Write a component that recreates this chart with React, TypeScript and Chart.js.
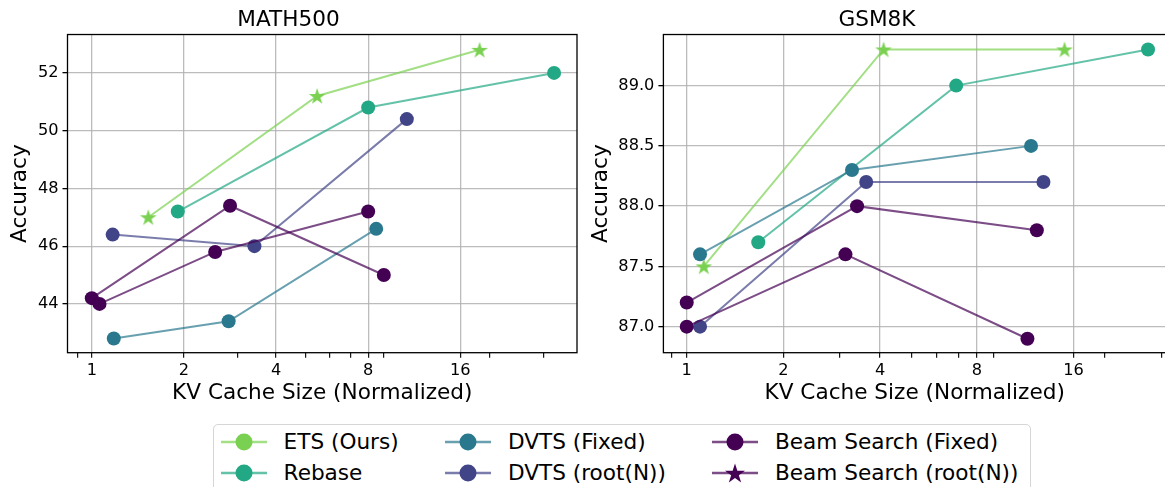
import { useEffect, useRef } from "react";
import { Chart, registerables, type ChartConfiguration, type Plugin } from "chart.js";

Chart.register(...registerables);

// series names + viridis colours
const seriesNames = [
    "ETS (Ours)",
    "Rebase",
    "DVTS (Fixed)",
    "DVTS (root(N))",
    "Beam Search (Fixed)",
    "Beam Search (root(N))",
];
const seriesColors = ["#7ad151", "#22a884", "#2a788e", "#414487", "#440154", "#440154"];
const lineColors = [
    "rgba(122,209,81,0.7)",
    "rgba(34,168,132,0.7)",
    "rgba(42,120,142,0.7)",
    "rgba(65,68,135,0.7)",
    "rgba(68,1,84,0.7)",
    "rgba(68,1,84,0.7)",
];

// MATH500 (KV cache size, accuracy)
const mathEtsKv = [1.53, 5.45, 18.5];
const mathEtsAcc = [47.0, 51.2, 52.8];
const mathRebaseKv = [1.91, 8.0, 32.4];
const mathRebaseAcc = [47.2, 50.8, 52.0];
const mathDvtsFixedKv = [1.18, 2.8, 8.5];
const mathDvtsFixedAcc = [42.8, 43.4, 46.6];
const mathDvtsRootKv = [1.17, 3.4, 10.7];
const mathDvtsRootAcc = [46.4, 46.0, 50.4];
const mathBeamFixedKv = [1.0, 2.83, 9.0];
const mathBeamFixedAcc = [44.2, 47.4, 45.0];
const mathBeamRootKv = [1.06, 2.53, 8.0];
const mathBeamRootAcc = [44.0, 45.8, 47.2];

// GSM8K
const gsmEtsKv = [1.13, 4.1, 15.0];
const gsmEtsAcc = [87.5, 89.3, 89.3];
const gsmRebaseKv = [1.67, 6.9, 27.3];
const gsmRebaseAcc = [87.7, 89.0, 89.3];
const gsmDvtsFixedKv = [1.1, 3.27, 11.8];
const gsmDvtsFixedAcc = [87.6, 88.3, 88.5];
const gsmDvtsRootKv = [1.1, 3.62, 12.9];
const gsmDvtsRootAcc = [87.0, 88.2, 88.2];
const gsmBeamFixedKv = [1.0, 3.12, 11.5];
const gsmBeamFixedAcc = [87.0, 87.6, 86.9];
const gsmBeamRootKv = [1.0, 3.39, 12.3];
const gsmBeamRootAcc = [87.2, 88.0, 87.8];

// ticks
const xMajorTicks = [1, 2, 4, 8, 16];
const xMinorTicks = [0.9, 3, 5, 6, 7, 9, 20, 30];
const mathYTicks = [44, 46, 48, 50, 52];
const gsmYTicks = [87.0, 87.5, 88.0, 88.5, 89.0];

const FONT = "DejaVu Sans";
const HEIGHT = 420;
const PLOT_BOTTOM = 352.7;

const starPoints = (cx: number, cy: number, R: number) => {
    const pts: [number, number][] = [];
    for (let k = 0; k < 10; k++) {
        const r = k % 2 === 0 ? R : R * 0.382;
        const a = -Math.PI / 2 + (k * Math.PI) / 5;
        pts.push([cx + r * Math.cos(a), cy + r * Math.sin(a)]);
    }
    return pts;
};

// filled star marker as a canvas (chart.js "star" is only an outline)
const makeStar = (color: string, R: number) => {
    const size = Math.ceil(R * 2 + 4);
    const c = document.createElement("canvas");
    c.width = size;
    c.height = size;
    const ctx = c.getContext("2d")!;
    ctx.beginPath();
    starPoints(size / 2, size / 2 + R * 0.08, R).forEach(([x, y], i) =>
        i === 0 ? ctx.moveTo(x, y) : ctx.lineTo(x, y),
    );
    ctx.closePath();
    ctx.fillStyle = color;
    ctx.fill();
    return c;
};

interface PanelProps {
    title: string;
    xs: number[][];
    ys: number[][];
    xMin: number;
    xMax: number;
    yMin: number;
    yMax: number;
    yTicks: number[];
    yDigits: number;
    left: number;
    width: number;
    padRight: number;
    yAxisWidth: number;
    yTitlePad: number;
}

const Panel = (p: PanelProps) => {
    const canvasRef = useRef<HTMLCanvasElement>(null);

    useEffect(() => {
        if (!canvasRef.current) return;
        const star = makeStar(seriesColors[0], 8.8);

        // matplotlib style box around the axes
        const framePlugin: Plugin<"line"> = {
            id: "frame",
            afterDatasetsDraw: (chart) => {
                const { ctx, chartArea: a } = chart;
                ctx.save();
                ctx.strokeStyle = "#000";
                ctx.lineWidth = 1.3;
                ctx.strokeRect(a.left, a.top, a.right - a.left, a.bottom - a.top);
                ctx.restore();
            },
        };

        const config: ChartConfiguration<"line"> = {
            type: "line",
            data: {
                datasets: seriesNames.map((name, i) => ({
                    label: name,
                    data: p.xs[i].map((x, j) => ({ x, y: p.ys[i][j] })),
                    borderColor: lineColors[i],
                    borderWidth: 2,
                    backgroundColor: seriesColors[i],
                    pointBackgroundColor: seriesColors[i],
                    pointBorderColor: seriesColors[i],
                    pointBorderWidth: 0,
                    pointRadius: 7,
                    pointStyle: i === 0 ? star : "circle",
                    tension: 0,
                    fill: false,
                    order: seriesNames.length - i,
                })),
            },
            options: {
                responsive: false,
                animation: false,
                layout: { padding: { left: 0, right: p.padRight, top: 0, bottom: 0 } },
                plugins: {
                    legend: { display: false },
                    tooltip: { enabled: false },
                    title: {
                        display: true,
                        text: p.title,
                        color: "#000",
                        font: { family: FONT, size: 21.6, weight: "normal", lineHeight: 1.2 },
                        padding: { top: 7, bottom: 1.6 },
                    },
                },
                scales: {
                    x: {
                        type: "logarithmic",
                        min: p.xMin,
                        max: p.xMax,
                        afterBuildTicks: (scale) => {
                            scale.ticks = [...xMajorTicks, ...xMinorTicks]
                                .sort((a, b) => a - b)
                                .map((v) => ({ value: v }));
                        },
                        afterFit: (scale) => {
                            scale.height = HEIGHT - PLOT_BOTTOM;
                            scale.paddingLeft = 0;
                            scale.paddingRight = 0;
                        },
                        ticks: {
                            autoSkip: false,
                            maxRotation: 0,
                            padding: 3,
                            color: "#000",
                            font: { family: FONT, size: 16.2 },
                            callback: (v) => (xMajorTicks.includes(Number(v)) ? String(v) : ""),
                        },
                        grid: {
                            color: (ctx) =>
                                ctx.tick && xMajorTicks.includes(ctx.tick.value)
                                    ? "rgba(176,176,176,0.85)"
                                    : "rgba(0,0,0,0)",
                            lineWidth: 1.3,
                            tickColor: "#000",
                            tickLength: 5,
                            tickWidth: 1.1,
                        },
                        border: { display: false },
                        title: {
                            display: true,
                            text: "KV Cache Size (Normalized)",
                            color: "#000",
                            font: { family: FONT, size: 21.6, lineHeight: 1.2 },
                            padding: { top: 0, bottom: 13.3 },
                        },
                    },
                    y: {
                        type: "linear",
                        min: p.yMin,
                        max: p.yMax,
                        afterBuildTicks: (scale) => {
                            scale.ticks = p.yTicks.map((v) => ({ value: v }));
                        },
                        afterFit: (scale) => {
                            scale.width = p.yAxisWidth;
                        },
                        ticks: {
                            padding: 4,
                            color: "#000",
                            font: { family: FONT, size: 16.2 },
                            callback: (v) => Number(v).toFixed(p.yDigits),
                        },
                        grid: {
                            color: "rgba(176,176,176,0.85)",
                            lineWidth: 1.3,
                            tickColor: "#000",
                            tickLength: 5,
                            tickWidth: 1.3,
                        },
                        border: { display: false },
                        title: {
                            display: true,
                            text: "Accuracy",
                            color: "#000",
                            font: { family: FONT, size: 21.6, lineHeight: 1.2 },
                            padding: { top: p.yTitlePad, bottom: 0 },
                        },
                    },
                },
            },
            plugins: [framePlugin],
        };

        const chart = new Chart(canvasRef.current, config);
        return () => {
            chart.destroy();
        };
    }, [p]);

    return (
        <canvas
            ref={canvasRef}
            width={p.width}
            height={HEIGHT}
            style={{ position: "absolute", left: p.left, top: 0, width: p.width, height: HEIGHT }}
        />
    );
};

const mathPanel: PanelProps = {
    title: "MATH500",
    xs: [mathEtsKv, mathRebaseKv, mathDvtsFixedKv, mathDvtsRootKv, mathBeamFixedKv, mathBeamRootKv],
    ys: [mathEtsAcc, mathRebaseAcc, mathDvtsFixedAcc, mathDvtsRootAcc, mathBeamFixedAcc, mathBeamRootAcc],
    xMin: 0.833,
    xMax: 38.5,
    yMin: 42.31,
    yMax: 53.33,
    yTicks: mathYTicks,
    yDigits: 0,
    left: 0,
    width: 590,
    padRight: 13,
    yAxisWidth: 67.5,
    yTitlePad: 7.3,
};

const gsmPanel: PanelProps = {
    title: "GSM8K",
    xs: [gsmEtsKv, gsmRebaseKv, gsmDvtsFixedKv, gsmDvtsRootKv, gsmBeamFixedKv, gsmBeamRootKv],
    ys: [gsmEtsAcc, gsmRebaseAcc, gsmDvtsFixedAcc, gsmDvtsRootAcc, gsmBeamFixedAcc, gsmBeamRootAcc],
    xMin: 0.846,
    xMax: 31.05,
    yMin: 86.784,
    yMax: 89.424,
    yTicks: gsmYTicks,
    yDigits: 1,
    left: 585,
    width: 588,
    padRight: 4,
    yAxisWidth: 78.4,
    yTitlePad: 3.3,
};

const LegendIcon = ({ i }: { i: number }) => {
    const isStar = i === 5;
    return (
        <svg width={46} height={22} style={{ display: "block" }}>
            <line x1={0} y1={11} x2={46} y2={11} stroke={lineColors[i]} strokeWidth={2.6} />
            {isStar ? (
                <polygon
                    points={starPoints(23, 12, 10.5)
                        .map(([x, y]) => `${x},${y}`)
                        .join(" ")}
                    fill={seriesColors[i]}
                />
            ) : (
                <circle cx={23} cy={11} r={8.5} fill={seriesColors[i]} />
            )}
        </svg>
    );
};

// legend column/row positions
const legendCols = [220.6, 445, 712];
const legendRows = [441.7, 472.7];

const App = () => {
    return (
        <div
            style={{
                position: "absolute",
                left: 0,
                top: 0,
                width: 1165,
                height: 487,
                overflow: "hidden",
                background: "#fff",
                fontFamily: FONT,
            }}
        >
            <Panel {...mathPanel} />
            <Panel {...gsmPanel} />
            <div
                style={{
                    position: "absolute",
                    left: 212.7,
                    top: 424,
                    width: 818,
                    height: 90,
                    border: "1px solid #d6d6d6",
                    borderRadius: 5,
                    background: "#fff",
                    boxSizing: "border-box",
                }}
            />
            {seriesNames.map((name, i) => {
                const col = Math.floor(i / 2);
                const row = i % 2;
                return (
                    <div
                        key={name}
                        style={{
                            position: "absolute",
                            left: legendCols[col],
                            top: legendRows[row] - 15,
                            height: 30,
                            display: "flex",
                            alignItems: "center",
                            whiteSpace: "nowrap",
                            fontSize: 21.6,
                            color: "#000",
                        }}
                    >
                        <LegendIcon i={i} />
                        <span style={{ marginLeft: 17 }}>{name}</span>
                    </div>
                );
            })}
        </div>
    );
};

export default App;
